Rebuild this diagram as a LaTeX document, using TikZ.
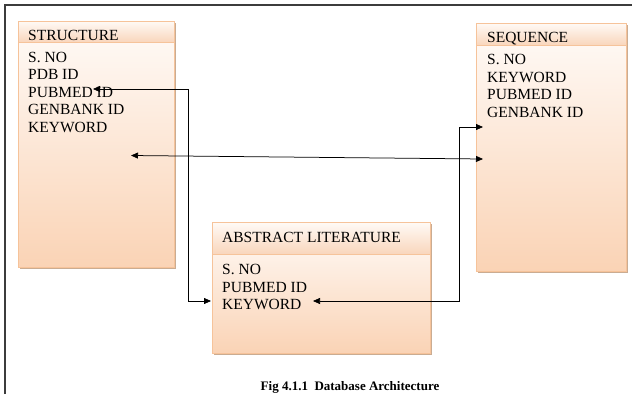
\documentclass[tikz,border=0pt]{standalone}
\usepackage{fontspec}
\setmainfont{Liberation Serif}
\usetikzlibrary{arrows.meta}

\definecolor{frameline}{HTML}{3C3C3C}
\definecolor{boxedge}{HTML}{F6C39A}
\definecolor{boxshadow}{HTML}{B8906E}
\definecolor{bodytop}{HTML}{FFFBF8}
\definecolor{bodybot}{HTML}{FAD3B5}
\definecolor{headtop}{HTML}{FFFAF6}
\definecolor{headbot}{HTML}{F9D6BC}

\tikzset{
  tblshadow/.style={fill=boxshadow, opacity=0.75},
  tblbody/.style={draw=boxedge, line width=0.9pt, top color=bodytop, bottom color=bodybot,
                  rectangle, inner sep=0pt, anchor=north west},
  tblhead/.style={draw=boxedge, line width=0.9pt, top color=headtop, bottom color=headbot},
  fieldtext/.style={anchor=base west, inner sep=0pt, font=\fontsize{15.5}{17}\selectfont},
  link/.style={draw=black, line width=0.75pt, {Triangle[length=7pt,width=6pt]}-{Triangle[length=7pt,width=6pt]}},
  captiontext/.style={font=\fontsize{13}{15}\selectfont\bfseries, anchor=base, inner sep=0pt}
}

\begin{document}
\begin{tikzpicture}[x=1pt,y=-1pt]
\useasboundingbox (0,0) rectangle (632,394);

% page frame (top and left edges)
\draw[frameline, line width=1.3pt] (5,394) -- (5,5) -- (632,5);

% ---------- STRUCTURE table ----------
\fill[tblshadow] (20,23) rectangle (176,269);
\node[tblbody, minimum width=156pt, minimum height=246pt] (struct) at (18,21) {};
\fill[tblhead] (18,21) rectangle (174,42);
\node[fieldtext] (structT) at (28,40) {STRUCTURE};
\foreach \t [count=\i] in {S. NO, PDB ID, PUBMED ID, GENBANK ID, KEYWORD}
  \node[fieldtext] (structF\i) at (28,62.5+17.4*\i-17.4) {\t};

% ---------- SEQUENCE table ----------
\fill[tblshadow] (478,25) rectangle (628,273);
\node[tblbody, minimum width=150pt, minimum height=248pt] (seq) at (476,23) {};
\fill[tblhead] (476,23) rectangle (626,45);
\node[fieldtext] (seqT) at (487,42) {SEQUENCE};
\foreach \t [count=\i] in {S. NO, KEYWORD, PUBMED ID, GENBANK ID}
  \node[fieldtext] (seqF\i) at (487,64.3+17.8*\i-17.8) {\t};

% ---------- ABSTRACT LITERATURE table ----------
\fill[tblshadow] (214,224) rectangle (432,355);
\node[tblbody, minimum width=218pt, minimum height=131pt] (abs) at (212,222) {};
\fill[tblhead] (212,222) rectangle (430,254);
\node[fieldtext] (absT) at (222,242.3) {ABSTRACT LITERATURE};
\foreach \t [count=\i] in {S. NO, PUBMED ID, KEYWORD}
  \node[fieldtext] (absF\i) at (222,274.3+17.8*\i-17.8) {\t};

% ---------- link end points ----------
\coordinate (pubS) at (93,89);
\coordinate (kwA)  at (211,301);
\coordinate (midS) at (131,155.5);
\coordinate (midQ) at (483,159);
\coordinate (kwA2) at (313,301);
\coordinate (topQ) at (483,127);

% ---------- links ----------
\draw[link] (pubS) -- (188,89) |- (kwA);
\draw[link] (midS) -- (midQ);
\draw[link] (kwA2) -- (459.5,301) |- (topQ);

% caption
\node[captiontext] (cap) at (350,390) {Fig 4.1.1\ \ Database Architecture};
\end{tikzpicture}
\end{document}
